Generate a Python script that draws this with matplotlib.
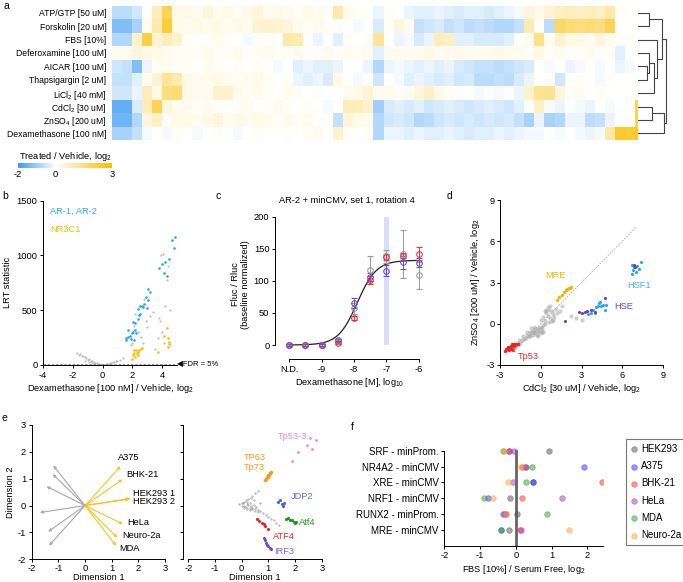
import numpy as np
import matplotlib
matplotlib.use("Agg")
import matplotlib.pyplot as plt
from matplotlib.colors import LinearSegmentedColormap, TwoSlopeNorm

plt.rcParams['font.family'] = ['Liberation Sans', 'DejaVu Sans']
plt.rcParams['mathtext.fontset'] = 'custom'
plt.rcParams['mathtext.rm'] = 'Liberation Sans'
plt.rcParams['mathtext.default'] = 'regular'
plt.rcParams['axes.unicode_minus'] = False
plt.rcParams['font.size'] = 6.7
plt.rcParams['axes.linewidth'] = 0.7
plt.rcParams['xtick.major.width'] = 0.7
plt.rcParams['ytick.major.width'] = 0.7
plt.rcParams['xtick.major.size'] = 2.5
plt.rcParams['ytick.major.size'] = 2.5
plt.rcParams['xtick.major.pad'] = 1.5
plt.rcParams['ytick.major.pad'] = 1.5
plt.rcParams['xtick.labelsize'] = 6.7
plt.rcParams['ytick.labelsize'] = 6.7

# -------- panel a: heatmap --------
treatments = ['ATP/GTP [50 uM]', 'Forskolin [20 uM]', 'FBS [10%]', 'Deferoxamine [100 uM]',
              'AICAR [100 uM]', 'Thapsigargin [2 uM]', 'LiCl$_2$ [40 mM]', 'CdCl$_2$ [30 uM]',
              'ZnSO$_4$ [200 uM]', 'Dexamethasone [100 nM]']

atp = [-0.7, -0.7, -0.5, 0.1, 0.8, 2.0, 0.3,
       0.3, 0.2, 0.4, 0.2, 0.3, 0.1, 0.3, 0.4, 0.2, 0.3, 0.2, 0.1, 0.3, 0.2, 0.1,
       1.0, 0.2, 0.1, 0.0, -0.2, 0.1, 0.0,
       -0.2, -0.3, -0.3, -0.2, -0.3, -0.4, -0.3, -0.3, -0.4, -0.3, -0.2, -0.1,
       0.4, 0.3, 0.5, 0.7, 0.8, 0.7, 0.8, 0.7, 1.0, 0.1, 0.0, 0.0]
forskolin = [-1.3, -1.3, -0.9, 0.2, 1.0, 2.3, 0.3,
             0.2, 0.3, 0.2, 0.3, 0.2, 0.3, 0.2, 0.5, 0.6, 0.5, 0.4, 0.2, 0.1, 0.2, 0.1,
             0.1, 0.0, -0.1, 0.0, -0.4, 0.1, 0.4,
             0.2, -0.6, -0.5, -0.4, -0.6, -0.5, -0.7, -0.6, -0.7, -0.8, -0.8, -0.6,
             0.9, 0.1, -0.7, 1.8, 1.6, 1.5, 1.6, 1.5, 2.0, 0.0, 0.0, 0.0]
fbs = [-0.8, -0.8, 0.6, 2.2, 0.5, 0.8, 0.6,
       0.1, 0.0, 0.1, 0.2, 0.1, 0.0, -0.1, 0.1, 0.1, 0.0, 1.0, 0.9, 0.1, -0.2, 0.0,
       -0.3, 0.1, 0.0, 0.1, 1.2, 0.0, -0.2,
       -0.1, -0.4, -0.2, 0.8, 0.7, -0.3, -0.3, -0.4, -0.4, -0.4, -0.3, 0.0,
       0.2, 1.4, 0.2, 0.6, 0.3, 0.3, 0.2, 0.4, 0.2, 0.0, 0.1, 0.0]
deferoxamine = [0.2, 0.2, 0.4, 0.3, 0.3, 0.2, 0.1,
                0.1, 0.1, 0.2, 0.1, 0.1, 0.2, 0.1, 0.1, 0.2, 0.1, 0.1, 0.2, 0.1, 0.1, 0.2,
                0.1, 0.2, 0.1, 0.2, -0.3, 0.2, 0.2,
                0.2, 0.2, 0.3, 0.2, 0.2, 0.3, 0.2, 0.2, 0.2, 0.3, 0.2, 0.2,
                0.1, 0.3, 0.1, 0.2, 0.1, 0.1, 0.2, 0.1, 0.1, -0.3, 0.0, 0.0]
aicar = [-0.5, -0.6, -1.3, -0.2, 0.1, 0.2, 0.1,
         0.1, 0.0, 0.2, 0.1, 0.0, 0.1, 0.0, 0.1, 0.0, -0.1, 0.0, -0.3, -0.2, -0.3, -0.3,
         -0.2, 0.0, 0.0, -0.2, -0.8, -0.2, -0.1,
         -0.2, -0.3, -0.2, -0.3, -0.2, -0.4, -0.5, -0.6, -0.6, -0.7, -0.6, -0.5,
         -0.4, 0.0, -0.1, 0.0, -0.2, -0.1, 0.0, -0.1, 0.0, -0.2, -0.1, 0.0]
thapsigargin = [-0.6, -0.6, -0.3, 0.2, 0.5, 1.2, 0.9,
                0.3, 0.2, 0.2, 0.3, 0.2, 0.1, 0.2, 0.3, 0.1, 0.0, 0.1, -0.2, -0.3, -0.2, -0.4,
                0.3, 0.0, -0.1, 0.0, -0.5, 0.0, -0.1,
                -0.3, -0.2, -0.3, -0.4, -0.3, -0.5, -0.4, -0.7, -0.7, -0.6, -0.7, -0.4,
                -0.2, 0.0, 0.1, -0.5, 0.0, 0.1, 0.0, -0.1, 0.1, 0.0, 0.0, 0.0]
licl2 = [-0.5, -0.5, -0.2, 0.8, 0.3, 1.5, 1.6,
         0.3, 0.2, 0.2, 0.6, 0.6, 0.2, 0.1, 0.2, 0.1, 0.0, 0.2, 0.1, 0.0, 0.1, 0.0,
         0.0, 0.2, 0.3, 0.5, 0.2, 0.2, 0.1,
         0.2, 0.4, 0.7, 0.3, 0.1, 0.1, 0.0, -0.1, 0.0, -0.1, 0.0, -0.2,
         0.6, 1.3, 1.3, 0.4, 0.1, 0.2, 0.0, 0.1, 0.0, 0.0, 0.0, 0.0]
cdcl2 = [-1.6, -1.6, -0.4, 0.8, 2.0, 0.4, 0.2,
         0.2, 0.1, 0.2, 0.1, 0.0, 0.1, 0.2, 0.0, 0.1, 0.2, 0.1, 0.0, 0.1, 0.0, -0.1,
         0.0, 0.8, 0.8, 0.6, -1.0, -0.4, -0.3,
         -0.4, -0.3, -0.5, -0.4, -0.3, -0.4, -0.5, -0.4, -0.3, -0.4, -0.5, -0.3,
         0.0, 0.7, -0.1, -0.2, 0.0, -0.1, -0.2, 0.0, -0.1, 0.0, 0.0, 2.0]
znso4 = [-1.5, -1.5, -0.8, 0.4, 0.7, 0.1, 0.3,
         0.3, 0.2, 0.3, 0.4, 0.2, 0.3, 0.2, 0.3, 0.2, 0.1, 0.2, 0.1, 0.2, 0.0, 0.1,
         -0.6, 0.4, 0.3, 0.2, -0.8, -0.5, -0.4,
         -0.5, -0.8, -0.7, -0.5, -0.4, -0.5, -0.4, -0.5, -0.4, -0.5, -0.4, -0.6,
         -0.9, -0.2, -0.9, -0.8, -0.2, -0.2, -0.7, -0.6, -0.2, 0.0, 0.0, 2.0]
dexamethasone = [-0.9, -0.9, -0.6, -0.1, 0.0, -0.1, 0.1,
                 0.0, -0.1, 0.0, 0.1, 0.0, -0.1, 0.0, 0.1, 0.0, 0.0, 0.1, 0.0, 0.1, 0.2, 0.0,
                 0.6, 0.1, 0.0, 0.1, -0.8, -0.2, -0.2,
                 -0.3, -0.2, -0.3, -0.3, -0.2, -0.3, -0.4, -0.3, -0.3, -0.2, -0.3, -0.2,
                 -0.1, -0.1, 0.0, -0.1, 0.0, -0.1, -0.2, -0.1, 1.0, 2.5, 2.4, 2.5]

heat = np.array([atp, forskolin, fbs, deferoxamine, aicar, thapsigargin,
                 licl2, cdcl2, znso4, dexamethasone])

# -------- panel b --------
b_blue_x = [4.86, 4.68, 4.79, 4.46, 4.19, 3.97, 3.79, 4.15, 4.31, 3.03, 3.18, 2.9, 3.07, 2.79, 2.97,
            2.52, 2.62, 2.7, 2.4, 2.42, 2.5, 2.15, 2.05, 2.35, 1.95, 1.73, 1.6, 1.84, 2.06, 2.25,
            1.55, 1.7, 1.9, 2.2, 2.1]
b_blue_y = [1166, 1141, 1066, 968, 943, 920, 889, 837, 816, 694, 669, 624, 594, 560, 517,
            542, 539, 532, 514, 457, 470, 381, 396, 420, 289, 320, 244, 265, 304, 290,
            228, 258, 240, 320, 230]
b_gold_x = [1.95, 2.02, 2.13, 2.24, 2.35, 2.46, 2.58, 2.68, 2.08, 2.2, 2.35, 2.3, 3.7, 4.15,
            4.35, 4.37, 4.45, 4.4, 4.46]
b_gold_y = [52, 91, 112, 137, 122, 137, 149, 158, 137, 76, 91, 105, 122, 265, 335, 250, 213, 167, 189]
b_gray_x = [-1.7, -1.6, -1.5, -1.4, -1.3, -1.2, -1.1, -1.0, -0.9, -0.8, -0.7, -0.6, -0.5, -0.4,
            -0.3, -0.2, -0.1, 0.0, 0.1, 0.2, 0.3, 0.4, 0.5, 0.6, 0.7, 0.8, 0.9, 1.0, 1.2, 1.4,
            -1.2, -0.9, -0.7, -0.5, 3.9, 4.05, 4.4, 4.3, 4.2, 3.85, 3.8, 4.0, 4.1, 3.7, 3.2, 2.9,
            3.0, 2.2, 2.1, 2.4, 2.55, 2.0, 1.9, 2.7, 3.5, 4.5, 2.8, 3.4]
b_gray_y = [110, 95, 100, 80, 85, 70, 60, 50, 55, 40, 35, 25, 20, 15,
            10, 5, 3, 2, 3, 5, 8, 12, 15, 20, 25, 30, 35, 40, 50, 60,
            40, 30, 20, 10, 1000, 1010, 900, 780, 540, 400, 430, 300, 200, 250, 450, 400,
            350, 470, 360, 300, 260, 200, 180, 200, 150, 500, 600, 480]
fdr_line = 8

# -------- panel c --------
dose = [-10, -9.5, -9, -8.5, -8, -7.5, -7, -6.5, -6]
dose_ticks = [-10, -9, -8, -7, -6]
dose_labels = ['N.D.', '-9', '-8', '-7', '-6']
rep_gray = [0, 0, 0, 7, 57, 117, 138, 142, 109]
rep_gray_err = [1, 1, 1, 2, 8, 22, 10, 37, 21]
rep_red = [0, 0, 0, 3, 42, 101, 137, 139, 142]
rep_red_err = [1, 1, 1, 2, 3, 6, 5, 4, 10]
rep_purple = [0, 0, 0, 8, 65, 106, 116, 129, 128]
rep_purple_err = [1, 1, 1, 2, 8, 6, 8, 10, 7]
fit_top, fit_ec50, fit_hill = 132, -7.9, 1.47

# -------- panel d --------
d_gray_x = [-1.9, -1.7, -1.5, -1.4, -1.2, -1.1, -1.0, -0.9, -0.8, -0.7, -0.6, -0.5, -0.4, -0.3,
            -0.2, -0.1, 0.0, 0.1, 0.2, 0.3, -1.0, -0.8, -0.6, -0.4, -0.2, 0.0, 0.2, -0.7, -0.5,
            -0.3, -0.1, 0.1, 0.0, 0.2, 0.3, 0.4, 0.5, 0.6, 0.7, 0.8, 0.9, 1.0, 1.1, 1.2, 0.3,
            0.5, 0.7, 0.9, 0.4, 0.6, 0.8, 1.4, 1.6, 2.2, 2.6, 3.0, -2.2, -1.6, -1.3]
d_gray_y = [-1.7, -1.5, -1.4, -1.2, -1.1, -1.0, -0.8, -0.9, -0.6, -0.7, -0.5, -0.6, -0.4, -0.5,
            -0.3, -0.4, -0.2, -0.3, -0.1, 0.0, -0.6, -0.9, -0.8, -0.7, -0.9, -0.7, -0.6, -0.3, -0.2,
            -0.8, -0.6, -0.5, 0.3, 0.5, 0.2, 0.8, 0.6, 1.0, 0.4, 0.9, 0.7, 0.5, 1.1, 0.8, 0.9,
            1.2, 1.3, 0.3, 1.0, 0.1, 0.2, 0.9, 1.3, 0.6, 0.4, 0.3, -1.8, -1.2, -0.9]
tp53_x = [-2.6, -2.55, -2.45, -2.4, -2.3, -2.2, -2.15, -2.1, -2.0, -1.95, -1.9, -1.8, -1.7, -1.65, -2.05, -2.35]
tp53_y = [-1.95, -1.8, -1.85, -1.7, -1.75, -1.6, -1.8, -1.5, -1.65, -1.45, -1.55, -1.5, -1.45, -1.5, -1.9, -1.9]
mre_x = [1.2, 1.35, 1.55, 1.7, 1.85, 1.95, 2.05, 2.15, 2.2]
mre_y = [1.75, 1.95, 2.1, 2.3, 2.45, 2.55, 2.6, 2.6, 2.65]
hse_x = [1.8, 2.8, 3.0, 3.25, 3.4, 3.7, 4.0, 4.7, 6.85, 6.95]
hse_y = [0.2, 0.85, 0.8, 0.85, 0.9, 1.0, 0.85, 1.9, 4.3, 4.1]
hsf1_x = [3.5, 3.7, 3.85, 4.0, 4.2, 4.3, 4.45, 4.55, 4.7, 4.8, 4.1, 4.35,
          6.7, 6.8, 6.9, 7.0, 7.1, 7.2, 7.35, 6.75]
hsf1_y = [0.7, 0.75, 1.0, 0.8, 1.3, 1.5, 1.3, 1.4, 1.0, 1.35, 1.2, 1.6,
          3.6, 3.9, 4.1, 3.8, 4.2, 4.0, 4.5, 4.3]

# -------- panel e --------
loading_gray_x = [-1.19, -1.21, -1.44, -1.69, -1.38, -1.35]
loading_gray_y = [1.49, 1.17, 0.71, -0.26, -0.97, -1.49]
cell_lines = ['A375', 'BHK-21', 'HEK293 1', 'HEK293 2', 'HeLa', 'Neuro-2a', 'MDA']
loading_x = [1.33, 1.4, 1.71, 1.66, 1.42, 1.21, 1.16]
loading_y = [1.46, 0.97, 0.27, 0.24, -0.69, -1.19, -1.49]
label_x = [1.24, 1.55, 1.81, 1.81, 1.6, 1.4, 1.3]
label_y = [1.78, 1.14, 0.46, 0.15, -0.63, -1.13, -1.58]

e_gray_x = [-0.1, 0, 0.05, 0.1, 0.15, 0.2, 0.25, 0.3, 0.35, 0.4, 0.45, 0.5, 0.55, 0.6, 0.7, 0.8,
            0.9, 1.0, 1.1, 1.2, 1.3, 1.4, 0.0, 0.1, 0.2, 0.3, 0.1, 0.2, 0.3, 0.4, 0.5, 0.6, 0.15,
            0.25, 0.35, 0.45, 0.4, 0.5, 0.6, 0.7]
e_gray_y = [0.05, -0.02, 0.08, 0.0, -0.05, 0.05, 0.02, -0.08, 0.0, -0.1, 0.03, -0.12, -0.05, -0.15,
            -0.2, -0.28, -0.35, -0.42, -0.5, -0.55, -0.65, -0.72, 0.1, 0.12, 0.15, 0.1, -0.1, -0.12,
            -0.15, -0.12, -0.2, -0.25, 0.2, 0.25, 0.3, 0.2, 0.35, 0.45, 0.55, 0.1]
tp533_x = [1.9, 2.1, 2.45, 2.55, 2.65, 2.8]
tp533_y = [1.65, 2.0, 2.25, 2.5, 2.1, 2.45]
tp63_x = [0.88, 0.92, 0.95, 0.98, 1.0, 1.03, 1.05, 1.08, 1.1]
tp63_y = [0.95, 1.0, 1.05, 1.08, 1.12, 1.15, 1.2, 1.22, 1.25]
jdp2_x = [1.35, 1.42, 1.5, 1.55, 1.6]
jdp2_y = [0.15, 0.2, 0.05, 0.0, 0.1]
atf4m_x = [1.65, 1.72, 1.8, 1.88, 1.95, 2.0, 2.05]
atf4m_y = [-0.5, -0.48, -0.52, -0.55, -0.62, -0.65, -0.6]
atf4h_x = [0.56, 0.65, 0.75, 0.82, 0.88, 1.0]
atf4h_y = [-0.5, -0.56, -0.63, -0.68, -0.75, -0.87]
irf3_x = [0.85, 0.88, 0.92, 0.95, 1.0, 1.05, 1.1]
irf3_y = [-1.2, -1.3, -1.38, -1.45, -1.52, -1.58, -1.6]

# -------- panel f --------
reporters = ['SRF - minProm.', 'NR4A2 - minCMV', 'XRE - minCMV', 'NRF1 - minCMV',
             'RUNX2 - minProm.', 'MRE - minCMV']
hek293 = [0.94, 0.28, 0.48, -0.15, 0.02, -0.19]
a375 = [-0.2, 1.92, 0.48, -0.78, -0.37, -0.42]
bhk21 = [-0.2, 0.18, 2.42, 0.17, -0.27, 0.13]
hela = [-0.05, 0.25, -0.08, 1.28, -0.3, 0.14]
mda = [-0.35, 0.45, 0.28, -0.88, 0.88, -0.4]
neuro2a = [-0.33, 0.15, -0.22, -0.65, -0.26, 1.5]

W, H = 683, 582
fig = plt.figure(figsize=(W / 100, H / 100), dpi=100)


def add_ax(x0, y0, x1, y1):
    return fig.add_axes([x0 / W, 1 - y1 / H, (x1 - x0) / W, (y1 - y0) / H])


def clean(ax):
    ax.spines['top'].set_visible(False)
    ax.spines['right'].set_visible(False)


# ---- a ----
cmap = LinearSegmentedColormap.from_list('bluegold', ['#3d9cf2', '#ffffff', '#fbbd00'])
norm = TwoSlopeNorm(vmin=-2, vcenter=0, vmax=3)
ncol = heat.shape[1]
xedges = np.r_[np.arange(ncol), ncol - 0.75]
ax = add_ax(112, 6, 637.5, 140)
ax.pcolormesh(xedges, np.arange(len(treatments) + 1), heat, cmap=cmap, norm=norm)
ax.set_xlim(0, xedges[-1])
ax.set_ylim(len(treatments), 0)
ax.set_yticks(np.arange(len(treatments)) + 0.5)
ax.set_yticklabels(treatments, fontsize=6.2)
ax.set_xticks([])
ax.tick_params(axis='y', length=0, pad=4)
for s in ax.spines.values():
    s.set_visible(False)

# dendrogram
axd = add_ax(638, 6, 672, 140)
axd.set_xlim(0, 34)
axd.set_ylim(len(treatments), 0)
axd.axis('off')


def link(ya, ha, yb, hb, h):
    axd.plot([ha, h, h, hb], [ya, ya, yb, yb], color='#444444', lw=0.8)
    return (ya + yb) / 2


m1 = link(0.5, 0, 1.5, 0, 11.3)
m2 = link(4.5, 0, 5.5, 0, 9)
m3 = link(3.5, 0, m2, 9, 11.3)
m4 = link(m3, 11.3, 6.5, 0, 15.7)
m5 = link(2.5, 0, m4, 15.7, 19)
m6 = link(m1, 11.3, m5, 19, 24)
m7 = link(7.5, 0, 8.5, 0, 14)
m8 = link(m7, 14, 9.5, 0, 25.7)
link(m6, 24, m8, 25.7, 27.5)

# colorbar
axc = add_ax(18, 163, 112, 168)
grad = np.linspace(-2, 3, 256)[None, :]
axc.imshow(grad, cmap=cmap, norm=norm, aspect='auto', extent=[-2, 3, 0, 1])
axc.set_yticks([])
axc.set_xticks([-2, 0, 3])
axc.tick_params(axis='x', length=0, pad=1.5)
for s in axc.spines.values():
    s.set_visible(False)
axc.set_title('Treated / Vehicle, log$_2$', fontsize=6.7, pad=2)

# ---- b ----
ax = add_ax(43, 200.7, 177, 365)
clean(ax)
ax.scatter(b_gray_x, b_gray_y, s=2.5, color='#bdbdbd', lw=0)
ax.scatter(b_blue_x, b_blue_y, s=3.5, color='#22a6f2', lw=0)
ax.scatter(b_gold_x, b_gold_y, s=3.5, color='#fbc000', lw=0)
ax.plot([-4, 4.9], [fdr_line, fdr_line], ls='--', color='#888888', lw=0.6, dashes=(3, 2))
ax.text(5.0, fdr_line, '\u25C0FDR = 5%', fontsize=5.5, va='center', ha='left')
ax.text(-3.5, 1400, 'AR-1, AR-2', color='#29abef', fontsize=6.7, va='center')
ax.text(-3.5, 1240, 'NR3C1', color='#f7b800', fontsize=6.7, va='center')
ax.set_xlim(-4, 5)
ax.set_ylim(0, 1500)
ax.set_xticks([-4, -2, 0, 2, 4])
ax.set_yticks([0, 500, 1000, 1500])
ax.set_xlabel('Dexamethasone [100 nM] / Vehicle, log$_2$', labelpad=2)
ax.set_ylabel('LRT statistic', labelpad=3)

# ---- c ----
ax = add_ax(275, 210, 425, 359)
clean(ax)
ax.spines['left'].set_bounds(0, 200)
ax.spines['bottom'].set_bounds(-10, -6)
ax.fill_between([-7.07, -6.93], 0, 200, color='#dcdcfa', lw=0)
xx = np.linspace(-10, -6, 200)
ax.plot(xx, fit_top / (1 + 10 ** ((fit_ec50 - xx) * fit_hill)), color='#222222', lw=0.9)
for mean, err, col in [(rep_gray, rep_gray_err, '#9a9a9a'),
                       (rep_red, rep_red_err, '#e8353a'),
                       (rep_purple, rep_purple_err, '#6e52c4')]:
    ax.errorbar(dose, mean, yerr=err, fmt='o', mfc='none', mec=col, ecolor=col,
                ms=4, mew=0.8, elinewidth=0.7, capsize=2, capthick=0.7)
ax.set_xlim(-10.44, -5.81)
ax.set_ylim(-21.8, 210.4)
ax.set_xticks(dose_ticks)
ax.set_xticklabels(dose_labels)
ax.set_yticks([0, 50, 100, 150, 200])
ax.set_xlabel('Dexamethasone [M], log$_{10}$', labelpad=2)
ax.set_ylabel('Fluc / Rluc\n(baseline normalized)', labelpad=3, linespacing=1.1)
fig.text(347 / W, 1 - 200 / H, 'AR-2 + minCMV, set 1, rotation 4', ha='center', va='center', fontsize=6.7)

# ---- d ----
ax = add_ax(500, 200, 663, 365)
clean(ax)
ax.plot([-2, 7], [-2, 7], ls='--', color='#aaaaaa', lw=0.6, dashes=(2, 1.5))
ax.scatter(d_gray_x, d_gray_y, s=9, color='#a0a0a0', alpha=0.5, lw=0)
ax.scatter(tp53_x, tp53_y, s=6, color='#ee2424', lw=0)
ax.scatter(mre_x, mre_y, s=6, color='#f7b500', lw=0)
ax.scatter(hsf1_x, hsf1_y, s=5, color='#25a8f2', lw=0)
ax.scatter(hse_x, hse_y, s=5, color='#6a3fc0', lw=0)
ax.text(1.1, 3.5, 'MRE', color='#f7b500', fontsize=6.7, ha='center', va='center')
ax.text(7.25, 2.78, 'HSF1', color='#40b0f5', fontsize=6.7, ha='center', va='center')
ax.text(6.07, 1.26, 'HSE', color='#6a48c8', fontsize=6.7, ha='center', va='center')
ax.text(-0.88, -2.37, 'Tp53', color='#ee2424', fontsize=6.7, ha='center', va='center')
ax.set_xlim(-3, 9)
ax.set_ylim(-3, 9)
ax.set_xticks([-3, 0, 3, 6, 9])
ax.set_yticks([-3, 0, 3, 6, 9])
ax.set_xlabel('CdCl$_2$ [30 uM] / Vehicle, log$_2$', labelpad=2)
ax.set_ylabel('ZnSO$_4$ [200 uM] / Vehicle, log$_2$', labelpad=3)

# ---- e left ----
ax = add_ax(31.7, 425, 165, 559.3)
clean(ax)
arrow = dict(arrowstyle='-|>', lw=0.8, mutation_scale=4, shrinkA=0, shrinkB=0)
for x, y in zip(loading_gray_x, loading_gray_y):
    ax.annotate('', xy=(x, y), xytext=(0, 0), arrowprops=dict(arrow, color='#a8a8a8'))
for x, y in zip(loading_x, loading_y):
    ax.annotate('', xy=(x, y), xytext=(0, 0), arrowprops=dict(arrow, color='#f9c31a'))
for name, x, y in zip(cell_lines, label_x, label_y):
    ax.text(x, y, name, fontsize=6.7, va='center', ha='left')
ax.set_xlim(-2, 3)
ax.set_ylim(-2, 3)
ax.set_xticks([-2, -1, 0, 1, 2, 3])
ax.set_yticks([-2, -1, 0, 1, 2, 3])
ax.tick_params(axis='x', pad=1)
ax.set_xlabel('Dimension 1', labelpad=0)
ax.set_ylabel('Dimension 2', labelpad=2)

# ---- e right ----
ax = add_ax(188.3, 425, 321.7, 559.3)
clean(ax)
ax.spines['left'].set_position(('outward', 4))
ax.scatter(e_gray_x, e_gray_y, s=3, color='#909090', alpha=0.6, lw=0)
ax.scatter(tp533_x, tp533_y, s=4, color='#f484c4', lw=0)
ax.scatter(tp63_x, tp63_y, s=6, color='#f39a1e', lw=0)
ax.scatter(jdp2_x, jdp2_y, s=5, color='#4664e6', lw=0)
ax.scatter(atf4m_x, atf4m_y, s=5, color='#1a9a1a', lw=0)
ax.scatter(atf4h_x, atf4h_y, s=5, color='#ee2222', lw=0)
ax.scatter(irf3_x, irf3_y, s=5, color='#6e48cc', lw=0)
ax.text(1.37, 2.57, 'Tp53-3', color='#f484c4', fontsize=6.7, va='center')
ax.text(0.48, 1.6, 'TP63\nTp73', color='#f39a1e', fontsize=6.7, va='center', ha='center', linespacing=1.05)
ax.text(1.83, 0.33, 'JDP2', color='#5a70ea', fontsize=6.7, va='center')
ax.text(2.16, -0.63, 'Atf4', color='#1a9a1a', fontsize=6.7, va='center')
ax.text(1.18, -1.15, 'ATF4', color='#ee2222', fontsize=6.7, va='center')
ax.text(1.2, -1.71, 'IRF3', color='#7a64d8', fontsize=6.7, va='center')
ax.set_xlim(-2, 3)
ax.set_ylim(-2, 3)
ax.set_xticks([-2, -1, 0, 1, 2, 3])
ax.set_yticks([-2, -1, 0, 1, 2, 3])
ax.set_yticklabels([])
ax.tick_params(axis='x', pad=1)
ax.set_xlabel('Dimension 1', labelpad=0)

# ---- f ----
ax = add_ax(444.3, 445, 603, 545.7)
clean(ax)
ypos = np.arange(len(reporters))[::-1]
ax.spines['left'].set_bounds(-1, 5)
ax.plot([0, 0], [-1, 5], color='#666666', lw=2, zorder=1)
for vals, col, name in [(hek293, '#555555', 'HEK293'), (a375, '#3232ff', 'A375'),
                        (bhk21, '#ff3333', 'BHK-21'), (hela, '#a23cc4', 'HeLa'),
                        (mda, '#2ea02e', 'MDA'), (neuro2a, '#ffa233', 'Neuro-2a')]:
    ax.scatter(vals, ypos, s=16, color=col, alpha=0.5, lw=0.6, edgecolors=col, label=name, zorder=3)
ax.set_xlim(-2, 2.44)
ax.set_ylim(-1, 5.36)
ax.set_yticks(ypos)
ax.set_yticklabels(reporters, fontsize=7)
ax.set_xticks([-2, -1, 0, 1, 2])
ax.set_xlabel('FBS [10%] / Serum Free, log$_2$', labelpad=2)
leg = ax.legend(loc='upper left', bbox_to_anchor=(625.7 / W, 1 - 439 / H), bbox_transform=fig.transFigure,
                frameon=True, fancybox=False, edgecolor='#555555', fontsize=7, handletextpad=0.3,
                labelspacing=0.75, borderpad=0.5, handlelength=0.8, borderaxespad=0)
leg.get_frame().set_linewidth(0.8)

# panel letters
for letter, x, y in [('a', 3, 6), ('b', 2, 196), ('c', 216, 196), ('d', 447, 196),
                     ('e', 2, 418), ('f', 351, 427)]:
    fig.text(x / W, 1 - y / H, letter, fontsize=7.5, va='center', ha='left')

fig.savefig('out.png', dpi=100)
